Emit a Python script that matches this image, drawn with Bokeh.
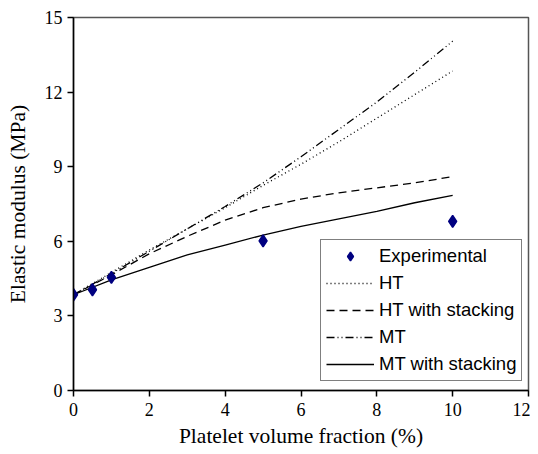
from bokeh.plotting import figure
from bokeh.models import Legend, LegendItem, FixedTicker, Range1d
from bokeh.embed import file_html
from bokeh.resources import INLINE

# Data
exp_x = [0, 0.5, 1, 5, 10]
exp_y = [3.85, 4.05, 4.55, 6.02, 6.8]

model_x = [0, 1, 2, 3, 4, 5, 6, 7, 8, 9, 10]
ht_y = [3.85, 4.75, 5.65, 6.5, 7.35, 8.25, 9.1, 10.0, 10.95, 11.9, 12.85]
ht_stack_y = [3.85, 4.65, 5.5, 6.2, 6.85, 7.35, 7.7, 7.95, 8.15, 8.35, 8.6]
mt_y = [3.85, 4.7, 5.6, 6.5, 7.4, 8.35, 9.4, 10.5, 11.6, 12.8, 14.05]
mt_stack_y = [3.85, 4.45, 4.95, 5.45, 5.85, 6.25, 6.6, 6.9, 7.2, 7.55, 7.85]

x_ticks = [0, 2, 4, 6, 8, 10, 12]
y_ticks = [0, 3, 6, 9, 12, 15]

p = figure(width=530, height=450, output_backend="svg", toolbar_location=None,
           x_range=Range1d(0, 12), y_range=Range1d(0, 15),
           min_border_left=73, min_border_right=2, min_border_top=17, min_border_bottom=57)

p.xgrid.visible = False
p.ygrid.visible = False
p.outline_line_color = "#555555"
p.outline_line_width = 1.5

for ax in (p.xaxis[0], p.yaxis[0]):
    ax.axis_line_color = "black"
    ax.axis_line_width = 1.5
    ax.major_tick_line_color = "black"
    ax.major_tick_line_width = 1.5
    ax.major_tick_out = 6
    ax.major_tick_in = 0
    ax.minor_tick_line_color = None
    ax.major_label_text_font = "Liberation Serif"
    ax.major_label_text_font_size = "18px"
    ax.major_label_text_color = "black"
    ax.axis_label_text_font = "Liberation Serif"
    ax.axis_label_text_font_size = "21.5px"
    ax.axis_label_text_font_style = "normal"
    ax.axis_label_text_color = "black"

p.xaxis.ticker = FixedTicker(ticks=x_ticks)
p.yaxis.ticker = FixedTicker(ticks=y_ticks)
p.xaxis.axis_label = "Platelet volume fraction (%)"
p.yaxis.axis_label = "Elastic modulus (MPa)"
p.xaxis.major_label_standoff = 6
p.yaxis.major_label_standoff = 5
p.xaxis.axis_label_standoff = 5
p.yaxis.axis_label_standoff = 12

r_mts = p.line(model_x, mt_stack_y, line_color="black", line_width=1.3)
r_hts = p.line(model_x, ht_stack_y, line_color="black", line_width=1.3, line_dash="8 5")
r_ht = p.line(model_x, ht_y, line_color="black", line_width=1.3, line_dash="1 3")
r_mt = p.line(model_x, mt_y, line_color="black", line_width=1.3, line_dash="8 3 1 3 1 3")
r_exp = p.scatter(exp_x, exp_y, marker="diamond", size=12,
                  fill_color="#000080", line_color="#000080", line_width=1.5)

legend = Legend(items=[
    LegendItem(label="Experimental", renderers=[r_exp]),
    LegendItem(label="HT", renderers=[r_ht]),
    LegendItem(label="HT with stacking", renderers=[r_hts]),
    LegendItem(label="MT", renderers=[r_mt]),
    LegendItem(label="MT with stacking", renderers=[r_mts]),
], location=(247, 9))
legend.label_text_font = "Liberation Sans"
legend.label_text_font_size = "18.5px"
legend.label_text_color = "black"
legend.glyph_width = 48
legend.glyph_height = 22
legend.label_height = 22
legend.spacing = 5
legend.padding = 5
legend.margin = 0
legend.label_standoff = 5
legend.border_line_color = "black"
legend.border_line_width = 1.2
legend.background_fill_alpha = 1
p.add_layout(legend, "center")

open("out.html", "w").write(file_html(p, INLINE))
